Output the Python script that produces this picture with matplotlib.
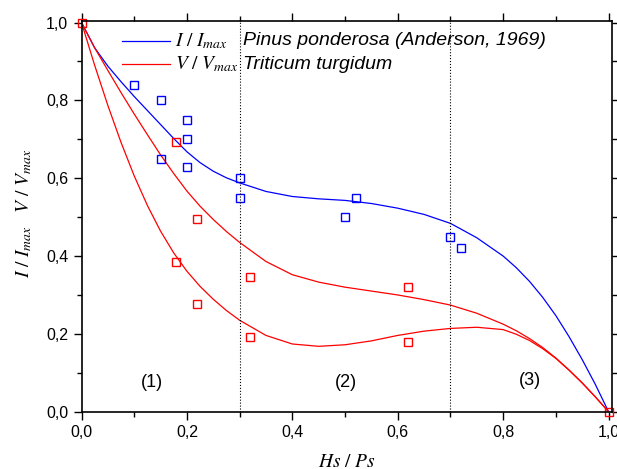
import matplotlib
matplotlib.use("Agg")
import matplotlib.pyplot as plt
from matplotlib.ticker import FixedLocator

plt.rcParams["mathtext.fontset"] = "stix"

# --- measured points (open squares) ---
pinus_x = [0.10, 0.15, 0.20, 0.20, 0.15, 0.20, 0.30, 0.30, 0.52, 0.50, 0.70, 0.72]
pinus_y = [0.84, 0.80, 0.75, 0.70, 0.65, 0.63, 0.60, 0.55, 0.55, 0.50, 0.45, 0.42]

trit_x = [0.00, 0.18, 0.22, 0.18, 0.22, 0.32, 0.32, 0.62, 0.62, 1.00]
trit_y = [1.00, 0.692, 0.495, 0.384, 0.277, 0.346, 0.193, 0.321, 0.178, 0.00]

# --- fitted curves ---
curve_x = [0.0, 0.025, 0.05, 0.075, 0.1, 0.125, 0.15, 0.175, 0.2, 0.225, 0.25,
           0.275, 0.3, 0.35, 0.4, 0.45, 0.5, 0.55, 0.6, 0.65, 0.7,
           0.75, 0.8, 0.825, 0.85, 0.875, 0.9, 0.925, 0.95, 0.975, 1.0]
blue_fit = [1.0, 0.935, 0.888, 0.848, 0.81, 0.774, 0.738, 0.702, 0.668, 0.64, 0.618,
            0.601, 0.588, 0.566, 0.553, 0.547, 0.543, 0.535, 0.523, 0.507, 0.484,
            0.447, 0.40, 0.37, 0.335, 0.294, 0.247, 0.193, 0.134, 0.07, 0.0]
red_upper = [1.0, 0.935, 0.877, 0.82, 0.765, 0.712, 0.66, 0.612, 0.567, 0.528, 0.494,
             0.463, 0.435, 0.386, 0.352, 0.333, 0.32, 0.31, 0.30, 0.288, 0.274,
             0.253, 0.225, 0.208, 0.188, 0.165, 0.138, 0.107, 0.074, 0.038, 0.0]
red_lower = [1.0, 0.89, 0.787, 0.692, 0.606, 0.53, 0.464, 0.408, 0.361, 0.322, 0.289,
             0.26, 0.235, 0.196, 0.174, 0.168, 0.172, 0.182, 0.196, 0.207, 0.214,
             0.217, 0.211, 0.199, 0.183, 0.162, 0.137, 0.107, 0.074, 0.038, 0.0]

zone_bounds = [0.3, 0.7]
zone_labels = ["(1)", "(2)", "(3)"]
zone_x = [0.133, 0.501, 0.851]
zone_y = [0.074, 0.074, 0.080]

xticks = [0.0, 0.2, 0.4, 0.6, 0.8, 1.0]
xtick_labels = ["0,0", "0,2", "0,4", "0,6", "0,8", "1,0"]
yticks = [0.0, 0.2, 0.4, 0.6, 0.8, 1.0]
ytick_labels = ["0,0", "0,2", "0,4", "0,6", "0,8", "1,0"]
minor_ticks = [0.1, 0.3, 0.5, 0.7, 0.9]

BLUE = "#0000ff"
RED = "#ff0000"
SANS = "Liberation Sans"

W, H = 617, 469
fig = plt.figure(figsize=(W / 100, H / 100), dpi=100)
ax = fig.add_axes([81.5 / W, (H - 411.7) / H, (611.7 - 81.5) / W, (411.7 - 21) / H])

ax.plot(curve_x, blue_fit, color=BLUE, lw=0.9)
ax.plot(curve_x, red_upper, color=RED, lw=0.9)
ax.plot(curve_x, red_lower, color=RED, lw=0.9)

ax.plot(pinus_x, pinus_y, "s", ms=5.5, mfc="none", mec=BLUE, mew=1.0, clip_on=False)
ax.plot(trit_x, trit_y, "s", ms=5.5, mfc="none", mec=RED, mew=1.0, clip_on=False)

for xb in zone_bounds:
    ax.axvline(xb, color="black", lw=0.8, ls=":")

for lab, zx, zy in zip(zone_labels, zone_x, zone_y):
    ax.text(zx, zy, lab, ha="center", va="center", fontsize=13, family=SANS)

# hand-built legend
ax.plot([0.077, 0.168], [0.953, 0.953], color=BLUE, lw=0.9)
ax.plot([0.077, 0.168], [0.893, 0.893], color=RED, lw=0.9)
ax.text(0.177, 0.953, r"$I\ /\ I_{max}$", fontsize=14, va="center", ha="left")
ax.text(0.177, 0.893, r"$V\ /\ V_{max}$", fontsize=14, va="center", ha="left")
ax.text(0.306, 0.953, "Pinus ponderosa (Anderson, 1969)", fontsize=14,
        style="italic", family=SANS, va="center", ha="left")
ax.text(0.306, 0.893, "Triticum turgidum", fontsize=14,
        style="italic", family=SANS, va="center", ha="left")

ax.set_xlim(0, 1.006)
ax.set_ylim(0, 1.004)
ax.set_xticks(xticks)
ax.set_xticklabels(xtick_labels, family=SANS, fontsize=11.5)
ax.set_yticks(yticks)
ax.set_yticklabels(ytick_labels, family=SANS, fontsize=11.5)
ax.xaxis.set_minor_locator(FixedLocator(minor_ticks))
ax.yaxis.set_minor_locator(FixedLocator(minor_ticks))
ax.tick_params(which="both", direction="out", top=True, right=True, width=1.0)
ax.tick_params(which="major", length=5.5, pad=4)
ax.tick_params(which="minor", length=3.5)
for s in ax.spines.values():
    s.set_linewidth(1.2)

fig.text(346.6 / W, (H - 461) / H, r"$Hs\ /\ Ps$", fontsize=14,
         ha="center", va="center")
fig.text(24 / W, (H - 213) / H, r"$I\ /\ I_{max}\quad V\ /\ V_{max}$",
         fontsize=14, rotation=90, ha="center", va="center")

fig.savefig("out.png", dpi=100, facecolor="white")
